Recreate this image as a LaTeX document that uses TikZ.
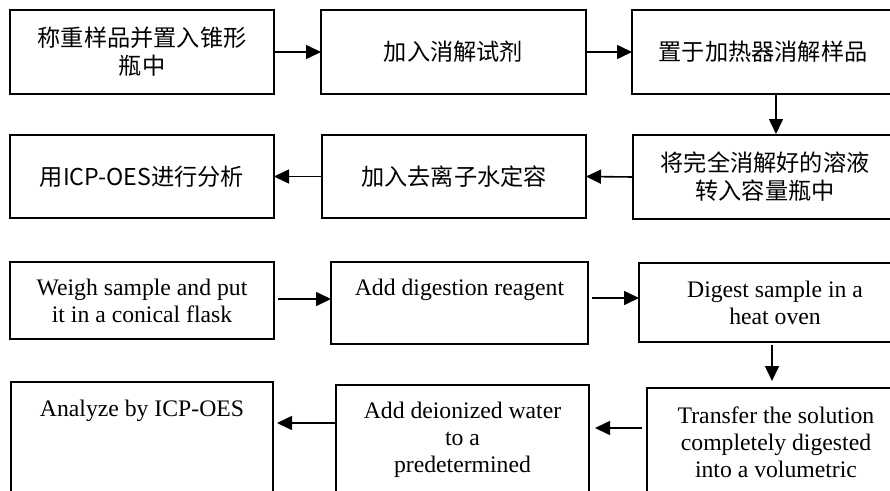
\documentclass[tikz,border=0pt]{standalone}
\usepackage{fontspec}
\setmainfont{Liberation Serif}
\newfontfamily\cjk{Noto Sans CJK SC}
\usetikzlibrary{arrows.meta}
\tikzset{
  box/.style={draw=black, line width=1.6pt, inner sep=0pt, outer sep=0pt, anchor=north west},
  zh/.style={align=center, inner sep=0pt, font=\cjk\fontsize{23.2}{28}\selectfont},
  en/.style={align=center, inner sep=0pt, anchor=north, font=\fontsize{23.7}{27}\selectfont},
  arr/.style={line width=1.6pt, -{Triangle[length=15pt,width=14pt]}},
}
\begin{document}
\begin{tikzpicture}[x=1pt,y=-1pt]
\useasboundingbox (0,0) rectangle (890,490);
\clip (0,0) rectangle (890,490);
% Chinese flow
\node[box, minimum width=264pt, minimum height=84pt] (A1) at (10,10) {};
\node[box, minimum width=265pt, minimum height=84pt] (A2) at (321,10) {};
\node[box, minimum width=262pt, minimum height=84pt] (A3) at (632,10) {};
\node[box, minimum width=264pt, minimum height=83pt] (B1) at (10,135) {};
\node[box, minimum width=264pt, minimum height=83pt] (B2) at (322,135) {};
\node[box, minimum width=264pt, minimum height=84pt] (B3) at (633,135) {};
\node[zh] (tA1) at (A1.center) {称重样品并置入锥形\\瓶中};
\node[zh] (tA2) at (A2.center) {加入消解试剂};
\node[zh] (tA3) at (A3.center) {置于加热器消解样品};
\node[zh] (tB1) at (B1.center) {用ICP-OES进行分析};
\node[zh] (tB2) at (B2.center) {加入去离子水定容};
\node[zh] (tB3) at (B3.center) {将完全消解好的溶液\\转入容量瓶中};
\coordinate (v1) at (776,0);
\draw[arr] (A1.east) -- (A2.west);
\draw[arr] (A2.east) -- (A3.west);
\draw[arr] (A3.south -| v1) -- ([yshift=1pt]B3.north -| v1);
\draw[arr] (B3.west) -- (B2.east);
\draw[arr] (B2.west) -- (B1.east);
% English flow
\node[box, minimum width=264pt, minimum height=77pt] (C1) at (10,262) {};
\node[box, minimum width=257pt, minimum height=82pt] (C2) at (331,262) {};
\node[box, minimum width=272pt, minimum height=79pt] (C3) at (639,263) {};
\node[box, minimum width=262pt, minimum height=130pt] (D1) at (11,382) {};
\node[box, minimum width=253pt, minimum height=130pt] (D2) at (336,385) {};
\node[box, minimum width=258pt, minimum height=130pt] (D3) at (647,388) {};
\node[en] (tC1) at ([yshift=-16.5pt]C1.north) {Weigh sample and put\\it in a conical flask};
\node[en] (tC2) at ([yshift=-16.5pt]C2.north) {Add digestion reagent};
\node[en] (tC3) at ([yshift=-17.5pt]C3.north) {Digest sample in a\\heat oven};
\node[en] (tD1) at ([yshift=-17.5pt]D1.north) {Analyze by ICP-OES};
\node[en] (tD2) at ([yshift=-16.5pt]D2.north) {Add deionized water\\to a\\predetermined};
\node[en] (tD3) at ([yshift=-18.5pt]D3.north) {Transfer the solution\\completely digested\\into a volumetric};
\coordinate (h1) at (0,299);
\coordinate (h2) at (0,298);
\coordinate (v2) at (772,0);
\coordinate (h3) at (0,428);
\coordinate (h4) at (0,423);
\draw[arr] ([xshift=4pt]C1.east |- h1) -- (C2.west |- h1);
\draw[arr] ([xshift=4pt]C2.east |- h2) -- (C3.west |- h2);
\draw[arr] ([yshift=-3pt]C3.south -| v2) -- ([yshift=7pt]D3.north -| v2);
\draw[arr] ([xshift=-5pt]D3.west |- h3) -- ([xshift=6pt]D2.east |- h3);
\draw[arr] (D2.west |- h4) -- ([xshift=4pt]D1.east |- h4);
\end{tikzpicture}
\end{document}
